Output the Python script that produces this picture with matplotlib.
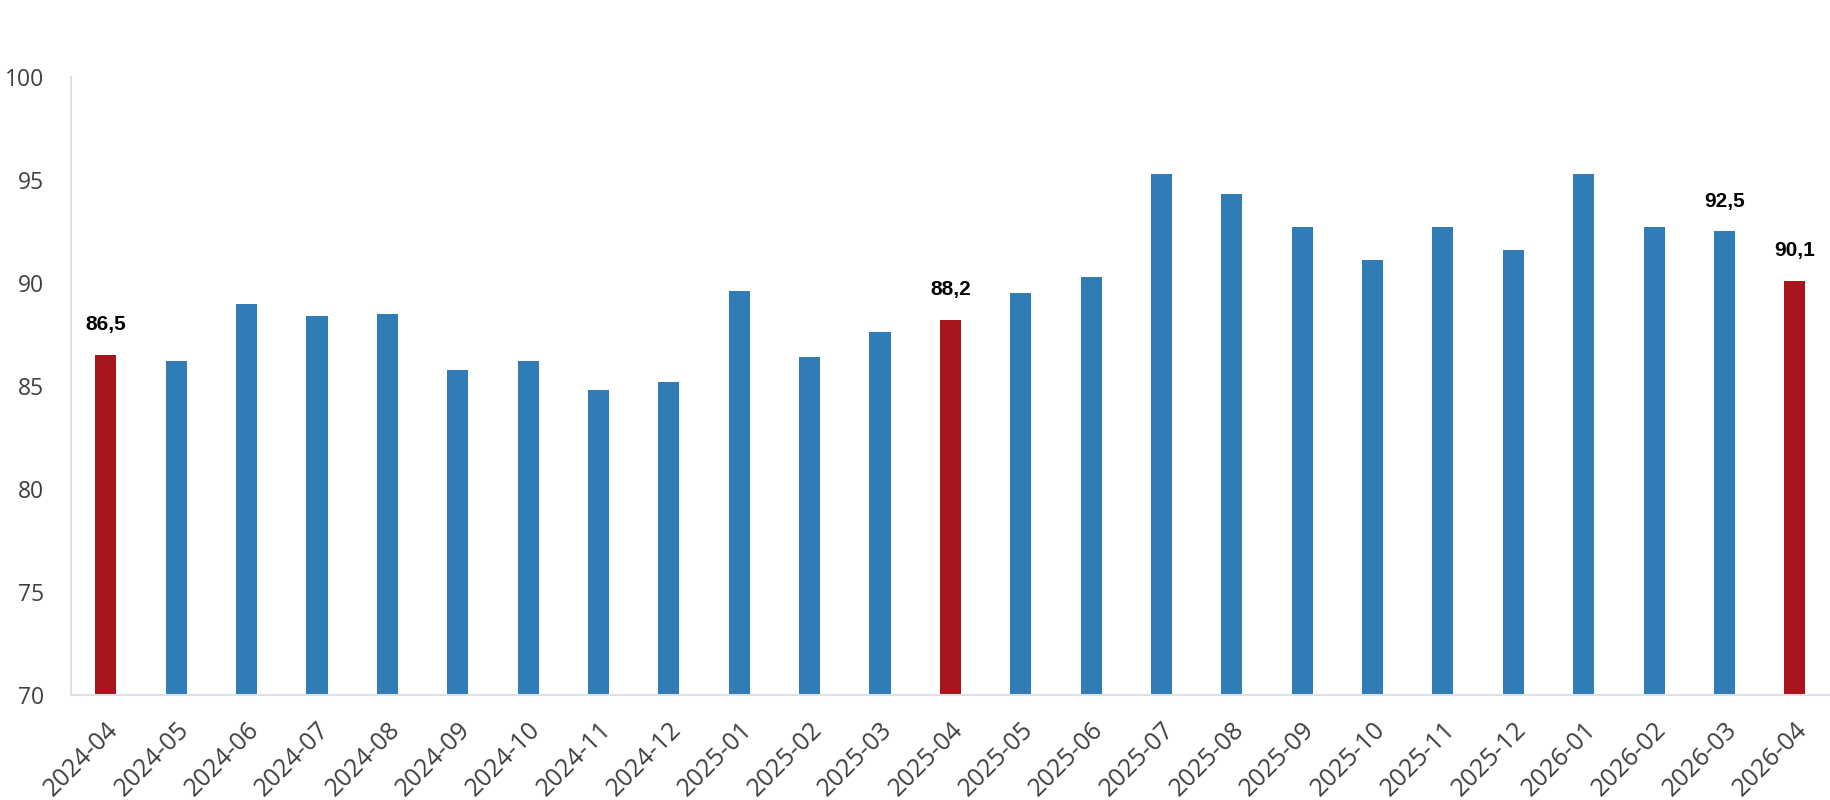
import matplotlib
matplotlib.use("Agg")
import matplotlib.pyplot as plt

categories = ["2024-04", "2024-05", "2024-06", "2024-07", "2024-08", "2024-09",
              "2024-10", "2024-11", "2024-12", "2025-01", "2025-02", "2025-03",
              "2025-04", "2025-05", "2025-06", "2025-07", "2025-08", "2025-09",
              "2025-10", "2025-11", "2025-12", "2026-01", "2026-02", "2026-03",
              "2026-04"]
values = [86.5, 86.2, 89.0, 88.4, 88.5, 85.8, 86.2, 84.8, 85.2, 89.6, 86.4, 87.6,
          88.2, 89.5, 90.3, 95.3, 94.3, 92.7, 91.1, 92.7, 91.6, 95.3, 92.7, 92.5,
          90.1]
highlight = ["2024-04", "2025-04", "2026-04"]
labelled = ["2024-04", "2025-04", "2026-03", "2026-04"]
y_ticks = [70, 75, 80, 85, 90, 95, 100]

BLUE = "#2F7CB7"
RED = "#A8151B"

fig = plt.figure(figsize=(18.3, 8), dpi=100)
ax = fig.add_axes([0.0386, 0.13125, 0.9614, 0.7725])

x = list(range(len(categories)))
colors = [RED if c in highlight else BLUE for c in categories]
ax.bar(x, [v - 70 for v in values], bottom=70, width=0.3, color=colors)

for xi, c, v in zip(x, categories, values):
    if c in labelled:
        ax.annotate(f"{v:.1f}".replace(".", ","), (xi, v), xytext=(0, 15),
                    textcoords="offset points", ha="center", va="bottom",
                    fontsize=15, fontweight="bold", family="Liberation Sans",
                    color="black")

ax.set_xlim(-0.5, len(categories) - 0.5)
ax.set_ylim(70, 100)
ax.set_yticks(y_ticks)
ax.set_yticklabels([str(t) for t in y_ticks], family="Open Sans", fontsize=16.5,
                   color="#404040")
ax.set_xticks(x)
ax.set_xticklabels(categories, rotation=45, ha="right", va="top",
                   rotation_mode="anchor", family="Open Sans", fontsize=18,
                   color="#404040")
ax.tick_params(axis="y", length=0, pad=19)
ax.tick_params(axis="x", length=0, pad=16)

for s in ["top", "right"]:
    ax.spines[s].set_visible(False)
for s in ["left", "bottom"]:
    ax.spines[s].set_color("#DDE1E7")
    ax.spines[s].set_linewidth(1.5)

fig.savefig("out.png", dpi=100, facecolor="white")
